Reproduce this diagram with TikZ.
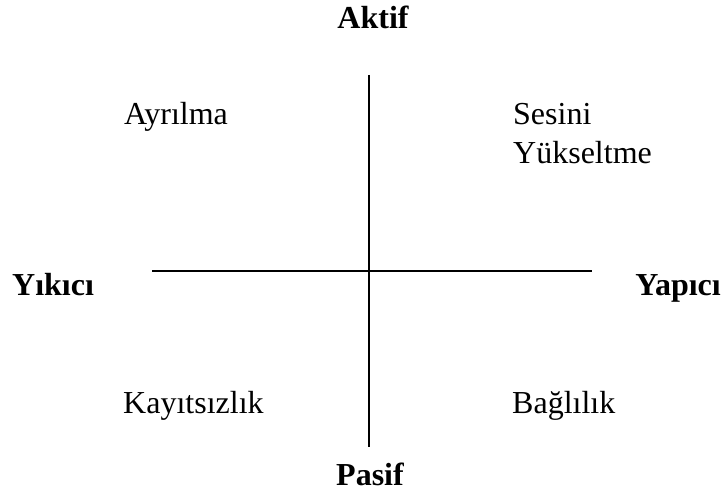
\documentclass[tikz,border=0pt]{standalone}
\usepackage{fontspec}
\setmainfont{Liberation Serif}
\begin{document}
\begin{tikzpicture}[x=1pt,y=-1pt,
  lbl/.style={inner sep=0pt,font=\fontsize{32}{39}\selectfont},
  axislbl/.style={lbl,font=\fontsize{32}{39}\selectfont\bfseries},
  axis/.style={line width=1.6pt,black}]
\useasboundingbox (0,0) rectangle (723,495);
\coordinate (vtop) at (369,75);
\coordinate (vbot) at (369,447);
\coordinate (hleft) at (152,271);
\coordinate (hright) at (592,271);
\draw[axis] (vtop) -- (vbot);
\draw[axis] (hleft) -- (hright);
\node[axislbl,anchor=base] (aktif) at (373,29) {Aktif};
\node[axislbl,anchor=base] (pasif) at (370,485) {Pasif};
\node[axislbl,anchor=base west] (yikici) at (12,295) {Yıkıcı};
\node[axislbl,anchor=base east] (yapici) at (721,295) {Yapıcı};
\node[lbl,anchor=base west] (ayrilma) at (124,124) {Ayrılma};
\node[lbl,anchor=base west] (sesini) at (513,124) {Sesini};
\node[lbl,anchor=base west] (yukseltme) at (513,163) {Yükseltme};
\node[lbl,anchor=base west] (kayitsizlik) at (123,413) {Kayıtsızlık};
\node[lbl,anchor=base west] (baglilik) at (512,413) {Bağlılık};
\end{tikzpicture}
\end{document}
